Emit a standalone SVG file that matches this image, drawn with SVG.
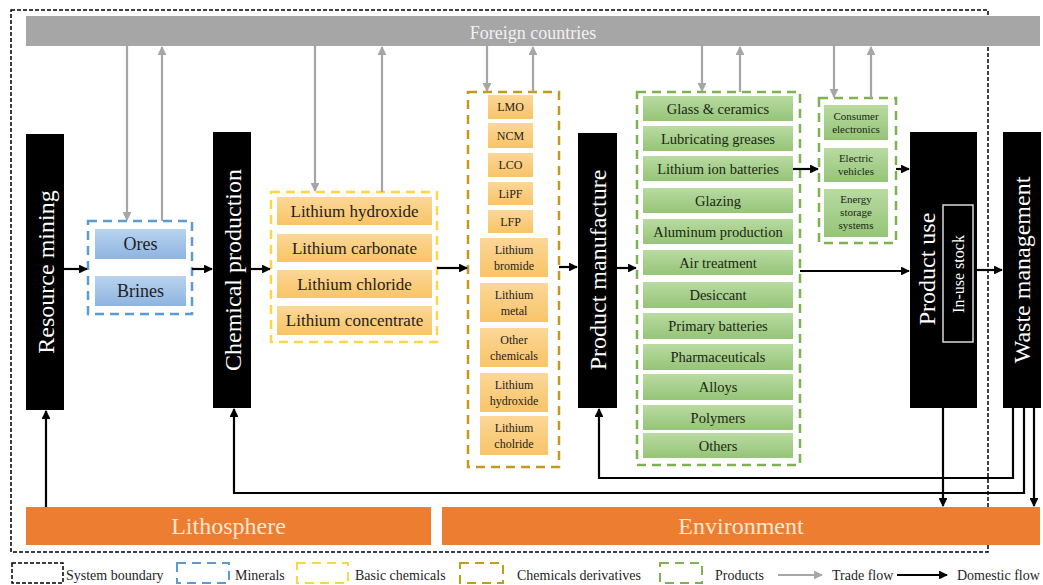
<svg xmlns="http://www.w3.org/2000/svg" width="1043" height="585" viewBox="0 0 1043 585" font-family="'Liberation Serif', Tinos, 'Times New Roman', 'DejaVu Serif', serif">
<defs>
<linearGradient id="gBlue" x1="0" y1="0" x2="0" y2="1"><stop offset="0" stop-color="#b9d3ef"/><stop offset="1" stop-color="#8db4e0"/></linearGradient>
<linearGradient id="gOrg" x1="0" y1="0" x2="0" y2="1"><stop offset="0" stop-color="#fcd798"/><stop offset="1" stop-color="#f8c466"/></linearGradient>
<linearGradient id="gGrn" x1="0" y1="0" x2="0" y2="1"><stop offset="0" stop-color="#b9dba2"/><stop offset="1" stop-color="#95c477"/></linearGradient>
<marker id="aBlk" viewBox="0 0 10 10" refX="9" refY="5" markerWidth="4" markerHeight="4" orient="auto" markerUnits="strokeWidth"><path d="M0,0 L10,5 L0,10 z" fill="#000"/></marker>
<marker id="aGry" viewBox="0 0 10 10" refX="9" refY="5" markerWidth="4" markerHeight="4" orient="auto" markerUnits="strokeWidth"><path d="M0,0 L10,5 L0,10 z" fill="#a6a6a6"/></marker>
<style>
svg text{font-family:'Liberation Serif', Tinos, 'Times New Roman', 'DejaVu Serif', serif;}
.blk{fill:#000;}
.big{font-size:24px;fill:#fff;text-anchor:middle;}
.bar{fill:#ed7d31;}
.bartxt{font-size:24px;fill:#fde6d2;text-anchor:middle;}
.min{fill:url(#gBlue);}
.org{fill:url(#gOrg);}
.grn{fill:url(#gGrn);}
.t18{font-size:18px;fill:#1e1e1e;text-anchor:middle;}
.t17{font-size:17px;fill:#1e1e1e;text-anchor:middle;}
.t14{font-size:14.5px;fill:#1b2614;text-anchor:middle;}
.t12{font-size:12px;fill:#1e1e1e;text-anchor:middle;}
.t11{font-size:11px;fill:#1b2614;text-anchor:middle;}
.dBlue{fill:none;stroke:#5b9bd5;stroke-width:2.5;stroke-dasharray:9,6;}
.dYel{fill:none;stroke:#ffd447;stroke-width:2.5;stroke-dasharray:9,6;}
.dGold{fill:none;stroke:#c39a1c;stroke-width:2.5;stroke-dasharray:9,6;}
.dGrn{fill:none;stroke:#7cb24f;stroke-width:2.5;stroke-dasharray:9,6;}
.dSys{fill:none;stroke:#000;stroke-width:1.5;stroke-dasharray:4,2;}
.trade{fill:none;stroke:#a6a6a6;stroke-width:2.2;marker-end:url(#aGry);}
.dom{fill:none;stroke:#000;stroke-width:2.2;marker-end:url(#aBlk);}
.leg{font-size:14px;fill:#1e1e1e;}
</style>
</defs>
<rect width="1043" height="585" fill="#fff"/>

<g id="system-boundary"><rect class="dSys" x="11" y="10" width="977" height="542"/></g>

<g id="foreign-countries">
<rect x="26" y="16" width="1014" height="30" fill="#a6a6a6"/>
<text x="533" y="39" style="font-size:18px;fill:#f2f2f2;text-anchor:middle">Foreign countries</text>
</g>

<g id="resource-mining">
<rect class="blk" x="26" y="134" width="38" height="276"/>
<text class="big" transform="translate(46,272) rotate(-90)" y="8">Resource mining</text>
</g>

<g id="minerals">
<rect class="dBlue" x="88" y="221" width="104" height="93"/>
<rect class="min" x="95" y="229" width="91" height="30"/>
<text class="t18" x="140.5" y="250">Ores</text>
<rect class="min" x="95" y="276" width="91" height="30"/>
<text class="t18" x="140.5" y="297">Brines</text>
</g>

<g id="chemical-production">
<rect class="blk" x="213" y="132" width="38" height="276"/>
<text class="big" transform="translate(233,270) rotate(-90)" y="8">Chemical production</text>
</g>

<g id="basic-chemicals">
<rect class="dYel" x="271" y="192" width="166" height="150"/>
<rect class="org" x="277" y="197" width="155" height="28"/>
<text class="t17" x="354.5" y="217">Lithium hydroxide</text>
<rect class="org" x="277" y="234" width="155" height="28"/>
<text class="t17" x="354.5" y="254">Lithium carbonate</text>
<rect class="org" x="277" y="270" width="155" height="28"/>
<text class="t17" x="354.5" y="290">Lithium chloride</text>
<rect class="org" x="277" y="306" width="155" height="29"/>
<text class="t17" x="354.5" y="326">Lithium concentrate</text>
</g>

<g id="chemicals-derivatives">
<rect class="dGold" x="468" y="92" width="91" height="375"/>
<rect class="org" x="488" y="95" width="45" height="24"/><text class="t12" x="510.5" y="111">LMO</text>
<rect class="org" x="488" y="123" width="45" height="25"/><text class="t12" x="510.5" y="140">NCM</text>
<rect class="org" x="488" y="153" width="45" height="24"/><text class="t12" x="510.5" y="169">LCO</text>
<rect class="org" x="488" y="182" width="45" height="23"/><text class="t12" x="510.5" y="198">LiPF</text>
<rect class="org" x="488" y="210" width="45" height="23"/><text class="t12" x="510.5" y="226">LFP</text>
<rect class="org" x="480" y="238" width="68" height="39"/><text class="t12" x="514" y="254">Lithium</text><text class="t12" x="514" y="270">bromide</text>
<rect class="org" x="480" y="283" width="68" height="39"/><text class="t12" x="514" y="299">Lithium</text><text class="t12" x="514" y="315">metal</text>
<rect class="org" x="480" y="328" width="68" height="39"/><text class="t12" x="514" y="344">Other</text><text class="t12" x="514" y="360">chemicals</text>
<rect class="org" x="480" y="373" width="68" height="39"/><text class="t12" x="514" y="389">Lithium</text><text class="t12" x="514" y="405">hydroxide</text>
<rect class="org" x="480" y="416" width="68" height="39"/><text class="t12" x="514" y="432">Lithium</text><text class="t12" x="514" y="448">cholride</text>
</g>

<g id="product-manufacture">
<rect class="blk" x="578" y="133" width="39" height="275"/>
<text class="big" transform="translate(598,270) rotate(-90)" y="8">Product manufacture</text>
</g>

<g id="products">
<rect class="dGrn" x="637" y="92" width="163" height="373"/>
<rect class="grn" x="643" y="96" width="150" height="25"/><text class="t14" x="718" y="114">Glass &amp; ceramics</text>
<rect class="grn" x="643" y="126" width="150" height="25"/><text class="t14" x="718" y="144">Lubricating greases</text>
<rect class="grn" x="643" y="156" width="150" height="25"/><text class="t14" x="718" y="174">Lithium ion batteries</text>
<rect class="grn" x="643" y="188" width="150" height="25"/><text class="t14" x="718" y="206">Glazing</text>
<rect class="grn" x="643" y="219" width="150" height="25"/><text class="t14" x="718" y="237">Aluminum production</text>
<rect class="grn" x="643" y="250" width="150" height="25"/><text class="t14" x="718" y="268">Air treatment</text>
<rect class="grn" x="643" y="282" width="150" height="26"/><text class="t14" x="718" y="300">Desiccant</text>
<rect class="grn" x="643" y="313" width="150" height="26"/><text class="t14" x="718" y="331">Primary batteries</text>
<rect class="grn" x="643" y="344" width="150" height="26"/><text class="t14" x="718" y="362">Pharmaceuticals</text>
<rect class="grn" x="643" y="374" width="150" height="26"/><text class="t14" x="718" y="392">Alloys</text>
<rect class="grn" x="643" y="405" width="150" height="25"/><text class="t14" x="718" y="423">Polymers</text>
<rect class="grn" x="643" y="433" width="150" height="25"/><text class="t14" x="718" y="451">Others</text>
</g>

<g id="battery-products">
<rect class="dGrn" x="819" y="98" width="77" height="145"/>
<rect class="grn" x="824" y="105" width="64" height="35"/><text class="t11" x="856" y="120">Consumer</text><text class="t11" x="856" y="133">electronics</text>
<rect class="grn" x="824" y="148" width="64" height="34"/><text class="t11" x="856" y="162">Electric</text><text class="t11" x="856" y="175">vehicles</text>
<rect class="grn" x="824" y="189" width="64" height="48"/><text class="t11" x="856" y="203">Energy</text><text class="t11" x="856" y="216">storage</text><text class="t11" x="856" y="229">systems</text>
</g>

<g id="product-use">
<rect class="blk" x="910" y="132" width="67" height="276"/>
<text class="big" transform="translate(927,269) rotate(-90)" y="8">Product use</text>
<rect x="943" y="205" width="30" height="137" fill="none" stroke="#d9d9d9" stroke-width="1.5"/>
<text transform="translate(958,274) rotate(-90)" y="5.5" style="font-size:16px;fill:#fff;text-anchor:middle">In-use stock</text>
</g>

<g id="waste-management">
<rect class="blk" x="1003" y="132" width="38" height="276"/>
<text class="big" transform="translate(1022,270) rotate(-90)" y="8">Waste management</text>
</g>

<g id="lithosphere">
<rect class="bar" x="26" y="507" width="405" height="38"/>
<text class="bartxt" x="228.5" y="534">Lithosphere</text>
</g>

<g id="environment">
<rect class="bar" x="442" y="507" width="598" height="38"/>
<text class="bartxt" x="741" y="534">Environment</text>
</g>

<g id="connectors">
<path class="trade" d="M127,46 V220"/>
<path class="trade" d="M162,221 V47"/>
<path class="trade" d="M315,46 V191"/>
<path class="trade" d="M382,192 V47"/>
<path class="trade" d="M487,46 V91"/>
<path class="trade" d="M533,92 V47"/>
<path class="trade" d="M702,46 V91"/>
<path class="trade" d="M740,92 V47"/>
<path class="trade" d="M834,46 V97"/>
<path class="trade" d="M871,98 V47"/>
<path class="dom" d="M64,269 H87"/>
<path class="dom" d="M192,269 H212"/>
<path class="dom" d="M251,269 H270"/>
<path class="dom" d="M437,268 H467"/>
<path class="dom" d="M559,267 H577"/>
<path class="dom" d="M617,268 H636"/>
<path class="dom" d="M793,169 H818"/>
<path class="dom" d="M896,169 H909"/>
<path class="dom" d="M800,271 H909"/>
<path class="dom" d="M977,270 H1002"/>
<path class="dom" d="M943,408 V506"/>
<path class="dom" d="M1034,408 V506"/>
<path class="dom" d="M1013,408 V478 H599 V409"/>
<path class="dom" d="M1024,408 V493 H234 V409"/>
<path class="dom" d="M46,507 V411"/>
</g>

<g id="legend">
<rect class="dSys" x="12" y="563" width="51" height="20"/>
<text class="leg" x="66" y="580">System boundary</text>
<rect class="dBlue" x="177" y="563" width="52" height="20" style="stroke-width:2"/>
<text class="leg" x="235" y="580">Minerals</text>
<rect class="dYel" x="297" y="563" width="51" height="20" style="stroke-width:2"/>
<text class="leg" x="355" y="580">Basic chemicals</text>
<rect class="dGold" x="460" y="563" width="43" height="20" style="stroke-width:2"/>
<text class="leg" x="517" y="580">Chemicals derivatives</text>
<rect class="dGrn" x="660" y="563" width="42" height="20" style="stroke-width:2"/>
<text class="leg" x="715" y="580">Products</text>
<path class="trade" d="M778,575 H822"/>
<text class="leg" x="832" y="580">Trade flow</text>
<path class="dom" d="M897,575 H947"/>
<text class="leg" x="957" y="580">Domestic flow</text>
</g>
</svg>
